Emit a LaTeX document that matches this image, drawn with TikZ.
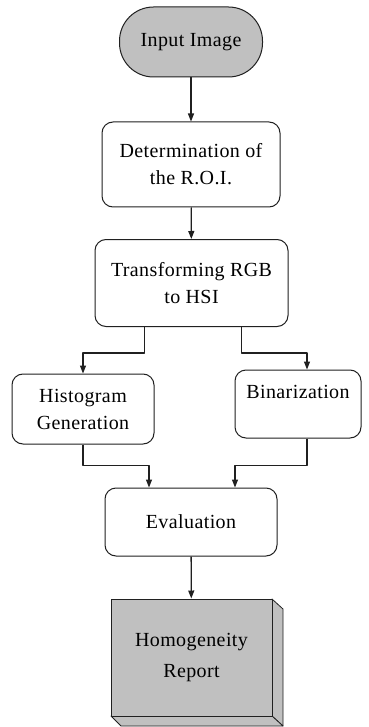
\documentclass[tikz,border=0pt]{standalone}
\usepackage{fontspec}
\setmainfont{Liberation Serif}[LetterSpace=2]
\usetikzlibrary{arrows.meta,calc}
\definecolor{relleno}{HTML}{C0C0C0}
\definecolor{linea}{HTML}{202020}

\begin{document}
\begin{tikzpicture}[x=1pt, y=-1pt, >={Triangle[length=8pt,width=6pt]},
  line join=round, font=\fontsize{20}{27}\selectfont,
  caja/.style={draw=linea, line width=1pt, rounded corners=11pt, align=center, inner sep=0pt, fill=white},
  flecha/.style={->, draw=linea, line width=1.3pt}]
  \useasboundingbox[fill=white] (0,0) rectangle (368,727);

  % Entrada
  \node[caja, fill=relleno, rounded corners=34pt, minimum width=143pt, minimum height=70pt] (input) at (191,42) {Input Image};

  % Region de interes y conversion
  \node[caja, minimum width=178pt, minimum height=85pt] (roi) at (191,164.5) {Determination of\\the R.O.I.};
  \node[caja, minimum width=193pt, minimum height=87pt] (rgb) at (191.5,283) {Transforming RGB\\to HSI};

  % Ramas
  \node[caja, minimum width=142pt, minimum height=70pt] (hist) at (83,409) {Histogram\\Generation};
  \node[caja, minimum width=126pt, minimum height=68pt, text depth=24pt] (bin) at (298,404) {Binarization};

  % Evaluacion
  \node[caja, minimum width=172pt, minimum height=68pt] (eval) at (191,522) {Evaluation};

  % Informe (caja con relieve)
  \fill[relleno, draw=linea, line width=0.8pt] (272,599) -- (283,609) -- (283,726) -- (272,716) -- cycle;
  \fill[relleno, draw=linea, line width=0.8pt] (111,716) -- (121,726) -- (283,726) -- (272,716) -- cycle;
  \node[draw=linea, line width=1pt, fill=relleno, align=center, minimum width=161pt, minimum height=117pt] (report) at (191.5,657.5) {Homogeneity\\[4pt]Report};

  % Conectores
  \draw[flecha] (input) -- (roi);
  \draw[flecha] (roi) -- (rgb);
  \draw[flecha] ([xshift=-47pt]rgb.south) -- ++(0,26) -| (hist.north);
  \draw[flecha] ([xshift=50pt]rgb.south) -- ++(0,26) -| ([xshift=9pt]bin.north);
  \draw[flecha] (hist.south) -- ++(0,21) -| ([xshift=-42pt]eval.north);
  \draw[flecha] ([xshift=9pt]bin.south) -- ++(0,27) -| ([xshift=44pt]eval.north);
  \draw[flecha] (eval) -- (report);
\end{tikzpicture}
\end{document}
